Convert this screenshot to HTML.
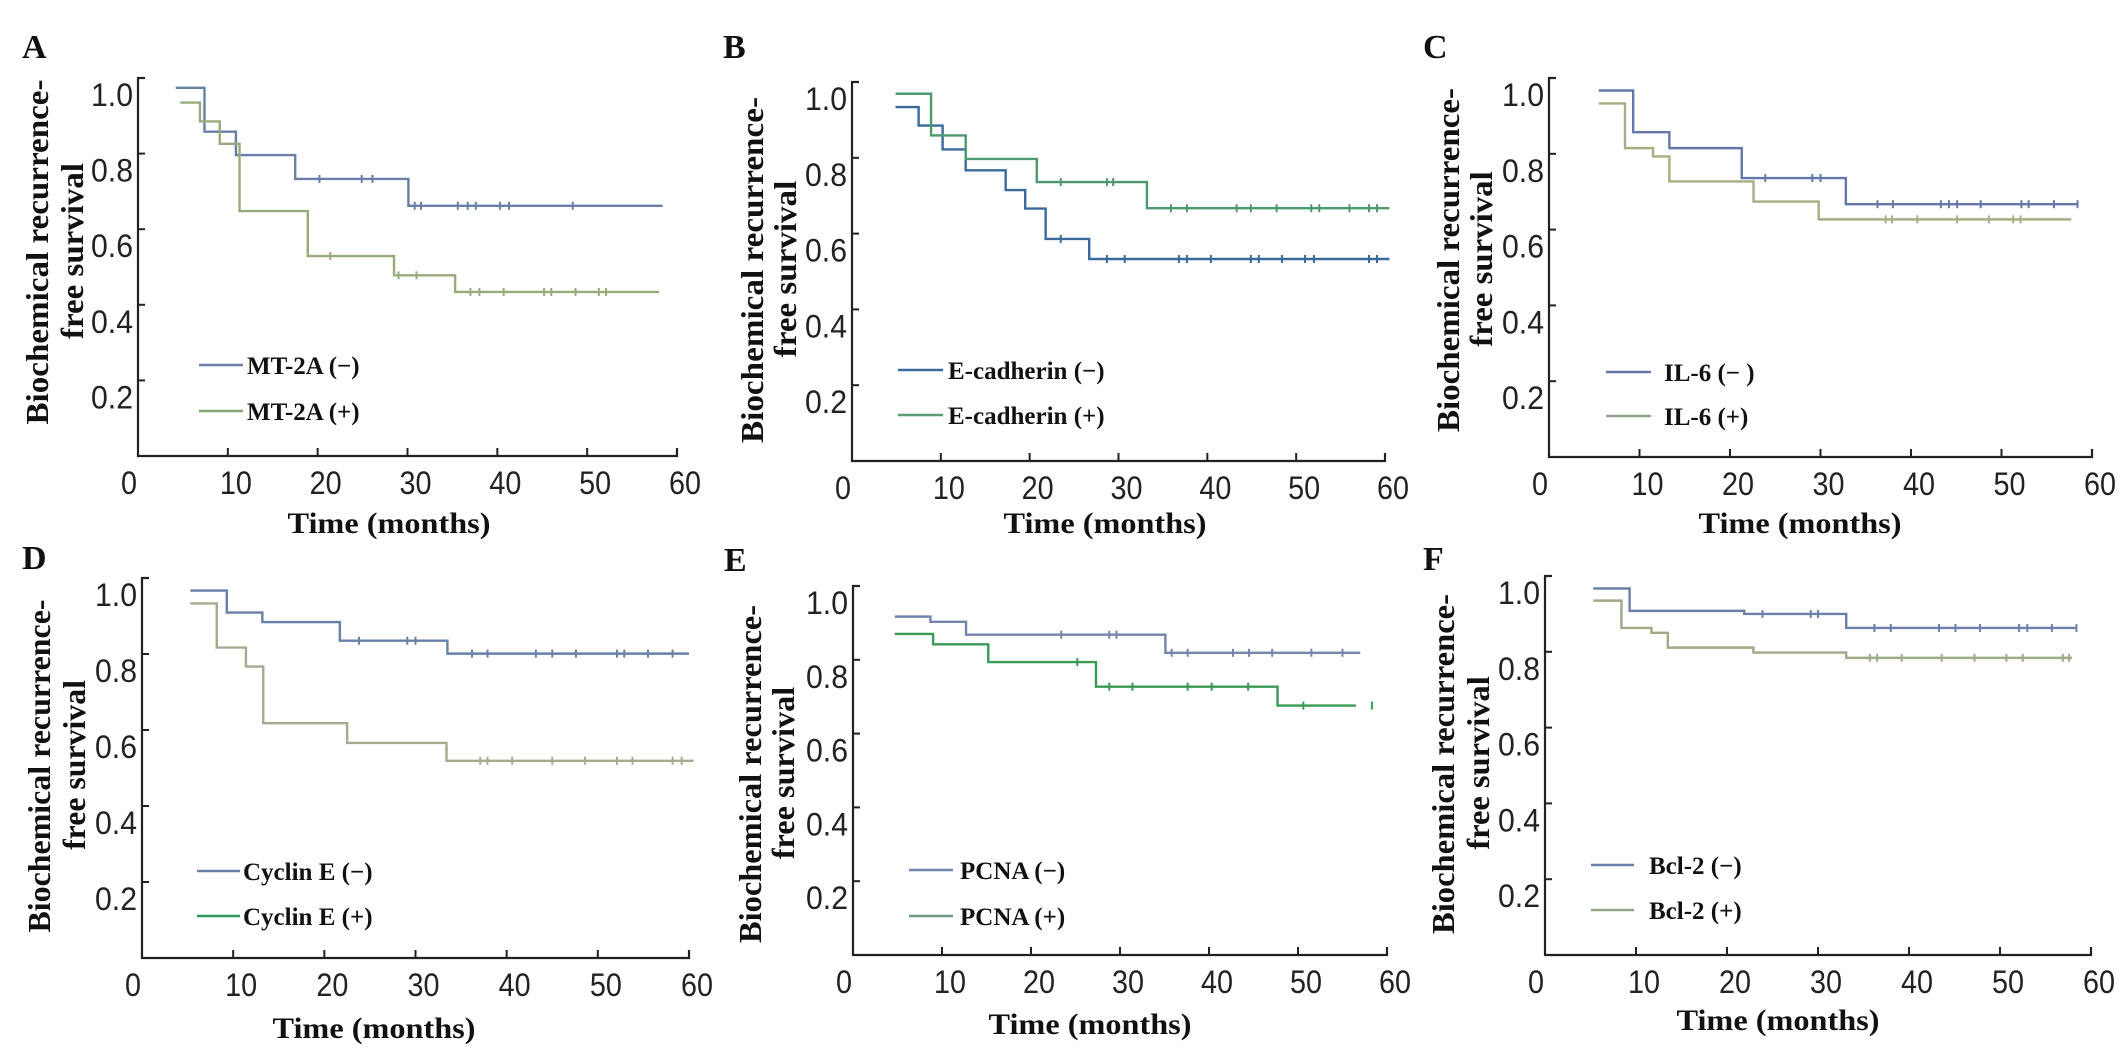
<!DOCTYPE html>
<html><head><meta charset="utf-8"><style>
html,body{margin:0;padding:0;background:#fff;}
svg{display:block;}
.ax{stroke:#222;stroke-width:2.2;fill:none;}
.tl{font-family:"Liberation Sans",sans-serif;font-size:32px;fill:#222;}
.ser{font-family:"Liberation Serif",serif;font-weight:bold;fill:#111;}
</style></head><body>
<svg id="fig" width="2126" height="1051" viewBox="0 0 2126 1051" xmlns="http://www.w3.org/2000/svg"></svg>
<script>
// ---- data (months / survival proportion) ----
const xTicks=[0,10,20,30,40,50,60];
const yTicks=[0.2,0.4,0.6,0.8,1.0];
const yTickLabels=["0.2","0.4","0.6","0.8","1.0"];

const aNegTimes=[4.2,7.4,10.9,17.5,30.1,58.4];
const aNegSurv=[0.974,0.858,0.796,0.733,0.662];
const aNegCensor=[20.2,24.9,26.1,30.8,31.5,35.6,36.7,37.6,40.3,41.3,48.4];
const aPosTimes=[4.7,6.9,9.1,11.3,18.9,28.5,35.3,58.0];
const aPosSurv=[0.935,0.885,0.826,0.648,0.529,0.478,0.434];
const aPosCensor=[21.4,29.0,31.0,37.0,38.0,40.7,45.2,46.0,48.7,51.3,52.1];

const bNegTimes=[4.9,7.5,10.2,12.8,17.3,19.5,21.8,26.7,60.5];
const bNegSurv=[0.934,0.885,0.822,0.767,0.715,0.666,0.586,0.533];
const bNegCensor=[23.5,28.7,30.7,36.8,37.7,40.4,44.9,45.8,48.4,51.0,52.0,58.2,59.1];
const bPosTimes=[4.9,8.9,12.8,20.8,33.2,60.5];
const bPosSurv=[0.969,0.859,0.797,0.736,0.667];
const bPosCensor=[23.5,28.7,29.4,35.9,37.7,43.3,44.9,47.8,51.7,52.6,56.0,58.2,59.1];

const cNegTimes=[5.5,9.3,13.3,21.3,32.8,58.4];
const cNegSurv=[0.967,0.857,0.815,0.736,0.667];
const cNegCensor=[23.9,29.1,30.0,36.3,38.0,43.3,44.2,45.1,47.7,52.2,53.0,55.8,58.4];
const cPosTimes=[5.5,8.4,11.5,13.3,22.6,29.8,57.7];
const cPosSurv=[0.933,0.815,0.793,0.727,0.674,0.627];
const cPosCensor=[37.2,37.9,40.7,45.1,48.6,51.3,52.1];

const dNegTimes=[5.3,9.3,13.2,21.7,33.5,60];
const dNegSurv=[0.967,0.909,0.884,0.835,0.801];
const dNegCensor=[23.8,29.1,30.0,36.2,37.9,43.2,45.0,47.6,52.1,52.9,55.5,58.2];
const dPosTimes=[5.3,8.2,11.4,13.3,22.5,33.4,60.5];
const dPosSurv=[0.933,0.817,0.767,0.618,0.566,0.519];
const dPosCensor=[37.1,37.9,40.6,45.0,48.6,52.1,53.8,58.2,59.2];

const eNegTimes=[4.7,8.7,12.7,35.1,57.0];
const eNegSurv=[0.917,0.903,0.868,0.819];
const eNegCensor=[23.4,28.8,29.6,35.8,37.6,42.7,44.5,47.1,51.5,55.0];
const ePosTimes=[4.7,9.0,15.2,27.3,47.7,56.5];
const ePosSurv=[0.870,0.842,0.794,0.727,0.676];
const ePosCensor=[25.2,28.8,31.4,37.6,40.3,44.4,50.6,58.3];

const fNegTimes=[5.3,9.3,21.9,33.1,58.4];
const fNegSurv=[0.967,0.908,0.900,0.863];
const fNegCensor=[23.9,29.2,30.0,36.2,38.0,43.3,45.1,47.8,52.1,53.0,55.7,58.4];
const fPosTimes=[5.3,8.4,11.7,13.5,22.9,33.1,57.9];
const fPosSurv=[0.935,0.863,0.850,0.811,0.798,0.784];
const fPosCensor=[35.7,36.5,39.2,43.6,47.2,50.7,52.5,56.9,57.6];

const legendA=["MT-2A (−)","MT-2A (+)"];
const legendB=["E-cadherin (−)","E-cadherin (+)"];
const legendC=["IL-6 (− )","IL-6 (+)"];
const legendD=["Cyclin E (−)","Cyclin E (+)"];
const legendE=["PCNA (−)","PCNA (+)"];
const legendF=["Bcl-2 (−)","Bcl-2 (+)"];

// ---- layout ----
const panels=[
 {id:"a",letter:"A",x0:138,x60:677,y1:78,y0:456,lx:22,ly:58,t1x:37,t2x:72,tcy:252,tl:345,leg:[199,243,365,411,247],xtc:389,xtb:533,
  neg:[aNegTimes,aNegSurv,aNegCensor,"#6a7fa8"],pos:[aPosTimes,aPosSurv,aPosCensor,"#98ab7a"],legT:legendA,legC:["#6a7fa8","#7fa572"]},
 {id:"b",letter:"B",x0:852,x60:1385,y1:82,y0:461,lx:723,ly:58,t1x:752,t2x:785,tcy:270,tl:346,leg:[898,943,370,415,948],xtc:1105,xtb:533,
  neg:[bNegTimes,bNegSurv,bNegCensor,"#3a6a9a"],pos:[bPosTimes,bPosSurv,bPosCensor,"#4e9a70"],legT:legendB,legC:["#3a6a9a","#5d9a7a"]},
 {id:"c",letter:"C",x0:1549,x60:2092,y1:78,y0:457,lx:1423,ly:58,t1x:1448,t2x:1481,tcy:260,tl:344,leg:[1606,1651,372,416,1664],xtc:1800,xtb:533,
  neg:[cNegTimes,cNegSurv,cNegCensor,"#6378a8"],pos:[cPosTimes,cPosSurv,cPosCensor,"#a9ad84"],legT:legendC,legC:["#6378a8","#8ea88a"]},
 {id:"d",letter:"D",x0:142,x60:689,y1:578,y0:958,lx:22,ly:569,t1x:39,t2x:74,tcy:766,tl:333,leg:[197,240,871,916,243],xtc:374,xtb:1038,
  neg:[dNegTimes,dNegSurv,dNegCensor,"#6880a8"],pos:[dPosTimes,dPosSurv,dPosCensor,"#a8aa90"],legT:legendD,legC:["#6880a8","#2a9a5a"]},
 {id:"e",letter:"E",x0:853,x60:1387,y1:586,y0:955,lx:724,ly:571,t1x:750,t2x:783,tcy:774,tl:338,leg:[909,953,870,916,960],xtc:1090,xtb:1034,
  neg:[eNegTimes,eNegSurv,eNegCensor,"#7384ad"],pos:[ePosTimes,ePosSurv,ePosCensor,"#3a9a55"],legT:legendE,legC:["#7384ad","#6f9a80"]},
 {id:"f",letter:"F",x0:1545,x60:2091,y1:576,y0:955,lx:1423,ly:570,t1x:1443,t2x:1478,tcy:764,tl:340,leg:[1591,1634,865,910,1649],xtc:1778,xtb:1030,
  neg:[fNegTimes,fNegSurv,fNegCensor,"#6a80aa"],pos:[fPosTimes,fPosSurv,fPosCensor,"#a0aa84"],legT:legendF,legC:["#6a80aa","#93a88a"]}
];

const NS="http://www.w3.org/2000/svg";
const svg=document.getElementById("fig");
function mk(tag,attrs,parent,text){
  const e=document.createElementNS(NS,tag);
  for(const k in attrs)e.setAttribute(k,attrs[k]);
  if(text!==undefined)e.textContent=text;
  (parent||svg).appendChild(e);return e;
}
function survAt(times,surv,t){
  let s=surv[0];
  for(let i=1;i<times.length-1;i++){if(t>=times[i])s=surv[i];}
  return s;
}
panels.forEach(p=>{
  const g=mk("g",{});
  
  
  const X=t=>p.x0+(p.x60-p.x0)*t/60;
  const Y=v=>p.y0-(p.y0-p.y1)*v;
  const L=mk("text",{x:p.lx,y:p.ly,class:"ser","font-size":34},g,p.letter);
  
  
  const ax=mk("path",{class:"ax",d:`M${p.x0+7} ${p.y1} H${p.x0} V${p.y0} H${p.x60} V${p.y0-8}`},g);
  
  
  yTicks.forEach((v,i)=>{
    mk("line",{x1:p.x0,x2:p.x0+7,y1:Y(v),y2:Y(v),stroke:"#222","stroke-width":2},g);
    const t=mk("text",{x:p.x0-5,y:Y(v)+28,class:"tl","text-anchor":"end",textLength:42,lengthAdjust:"spacingAndGlyphs"},g,yTickLabels[i]);
    
    
  });
  xTicks.forEach(v=>{
    if(v>0&&v<60)mk("line",{x1:X(v),x2:X(v),y1:p.y0,y2:p.y0-8,stroke:"#222","stroke-width":2},g);
    const cx=v===0?p.x0-9:X(v)+8;
    const lab=String(v);
    const t=mk("text",{x:cx,y:p.y0+38,class:"tl","text-anchor":"middle",textLength:lab.length*16,lengthAdjust:"spacingAndGlyphs"},g,lab);
    
    
  });
  const yt=mk("text",{transform:`translate(${p.t1x+11},${p.tcy}) rotate(-90)`,class:"ser","font-size":32,"text-anchor":"middle",textLength:p.tl,lengthAdjust:"spacingAndGlyphs"},g,"Biochemical recurrence-");
  
  
  const yt2=mk("text",{transform:`translate(${p.t2x+11},${p.tcy-1}) rotate(-90)`,class:"ser","font-size":32,"text-anchor":"middle",textLength:p.tl*0.51,lengthAdjust:"spacingAndGlyphs"},g,"free survival");
  
  
  const xt=mk("text",{x:p.xtc,y:p.xtb,class:"ser","font-size":30,"text-anchor":"middle",textLength:203,lengthAdjust:"spacingAndGlyphs"},g,"Time (months)");
  
  
  [["negative",p.neg],["positive",p.pos]].forEach(([nm,s])=>{
    const [times,surv,cens,col]=s;
    let d=`M${X(times[0])} ${Y(surv[0])}`;
    for(let i=1;i<times.length;i++){
      d+=` H${X(times[i])}`;
      if(i<surv.length)d+=` V${Y(surv[i])}`;
    }
    const path=mk("path",{d:d,fill:"none",stroke:col,"stroke-width":2.4},g);
    
    
    cens.forEach(t=>{
      const yy=Y(survAt(times,surv,t));
      const c=mk("line",{x1:X(t),x2:X(t),y1:yy-4,y2:yy+4,stroke:col,"stroke-width":2},g);
      
      
    });
  });
  const [lx1,lx2,ly1,ly2,tx]=p.leg;
  [ly1,ly2].forEach((ly,i)=>{
    const ll=mk("line",{x1:lx1,x2:lx2,y1:ly,y2:ly,stroke:p.legC[i],"stroke-width":2.4},g);
    
    
    const lt=mk("text",{x:tx,y:ly+9,class:"ser","font-size":25},g,p.legT[i]);
    
    
  });
});
</script>
</body></html>
